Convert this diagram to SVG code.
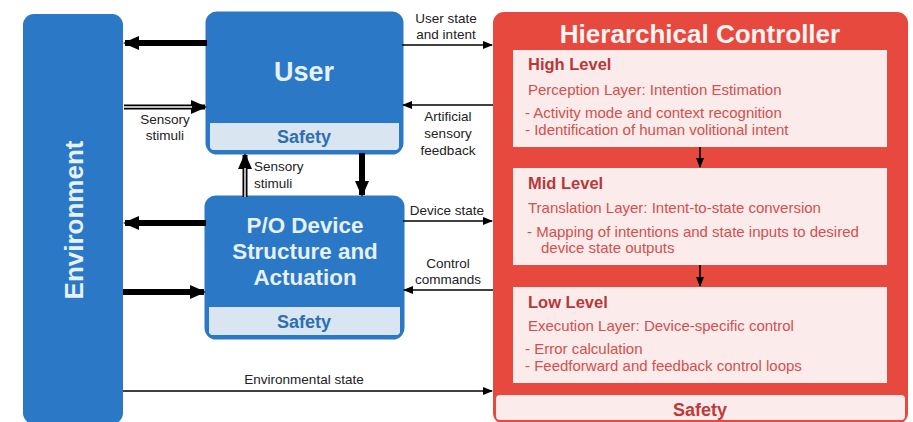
<svg xmlns="http://www.w3.org/2000/svg" width="913" height="422" viewBox="0 0 913 422">
<defs>
<style>
.lbl{font-family:"Liberation Sans",Arial,sans-serif;font-size:13.5px;fill:#222;text-anchor:middle}
.blueTitle{font-family:"Liberation Sans",Arial,sans-serif;font-weight:bold;fill:#e6f1fb;text-anchor:middle}
.safeB{font-family:"Liberation Sans",Arial,sans-serif;font-weight:bold;font-size:18px;fill:#2e6fb3;text-anchor:middle}
.head{font-family:"Liberation Sans",Arial,sans-serif;font-weight:bold;font-size:16.5px;fill:#b8383a}
.body{font-family:"Liberation Sans",Arial,sans-serif;font-size:15px;fill:#d2504e}
.thick{stroke:#000;stroke-width:6;fill:none}
.thin{stroke:#000;stroke-width:1.6;fill:none}
</style>
<marker id="big" markerUnits="userSpaceOnUse" markerWidth="16" markerHeight="14" refX="14" refY="7" orient="auto">
<path d="M0,0 L16,7 L0,14 z" fill="#000"/>
</marker>
<marker id="sm" markerUnits="userSpaceOnUse" markerWidth="10" markerHeight="8" refX="9" refY="4" orient="auto">
<path d="M0,0 L10,4 L0,8 z" fill="#000"/>
</marker>
</defs>
<rect width="913" height="422" fill="#fff"/>

<g id="environment">
<rect x="23" y="14" width="100" height="410" rx="11" fill="#2a78c6"/>
<text transform="translate(83,220) rotate(-90)" class="blueTitle" font-size="26">Environment</text>
</g>

<g id="user">
<rect x="207" y="13" width="195" height="140" rx="10" fill="#2a78c6"/>
<rect x="210" y="123" width="189" height="27" fill="#d9e6f2"/>
<rect x="207" y="13" width="195" height="140" rx="10" fill="none" stroke="#2a78c6" stroke-width="3"/>
<text x="304" y="81" class="blueTitle" font-size="27">User</text>
<text x="304" y="143" class="safeB">Safety</text>
</g>

<g id="device">
<rect x="206" y="197" width="197" height="141" rx="10" fill="#2a78c6"/>
<rect x="209" y="307" width="191" height="28" fill="#d9e6f2"/>
<rect x="206" y="197" width="197" height="141" rx="10" fill="none" stroke="#2a78c6" stroke-width="3"/>
<text class="blueTitle" font-size="22.4"><tspan x="305" y="233">P/O Device</tspan><tspan x="305" y="259">Structure and</tspan><tspan x="305" y="285">Actuation</tspan></text>
<text x="304" y="328" class="safeB">Safety</text>
</g>

<g id="controller">
<rect x="493" y="12" width="415" height="412" rx="11" fill="#e8493f"/>
<rect x="496" y="395" width="409" height="25" rx="4" fill="#fbebea"/>
<text x="700" y="43" font-family="'Liberation Sans',Arial,sans-serif" font-weight="bold" font-size="26" fill="#fff4f2" text-anchor="middle">Hierarchical Controller</text>
<text x="700" y="416" font-family="'Liberation Sans',Arial,sans-serif" font-weight="bold" font-size="18" fill="#c0393a" text-anchor="middle">Safety</text>
</g>

<g id="high-level">
<rect x="513" y="50" width="374" height="97" fill="#fbebea"/>
<text x="528" y="70" class="head">High Level</text>
<text x="528" y="95" class="body">Perception Layer: Intention Estimation</text>
<text x="525" y="118" class="body">- Activity mode and context recognition</text>
<text x="525" y="135" class="body">- Identification of human volitional intent</text>
</g>

<g id="mid-level">
<rect x="513" y="168" width="374" height="97" fill="#fbebea"/>
<text x="528" y="189" class="head">Mid Level</text>
<text x="528" y="213" class="body">Translation Layer: Intent-to-state conversion</text>
<text x="527" y="237" class="body">- Mapping of intentions and state inputs to desired</text>
<text x="541" y="253" class="body">device state outputs</text>
</g>

<g id="low-level">
<rect x="513" y="287" width="374" height="96" fill="#fbebea"/>
<text x="528" y="308" class="head">Low Level</text>
<text x="528" y="331" class="body">Execution Layer: Device-specific control</text>
<text x="525" y="354" class="body">- Error calculation</text>
<text x="525" y="371" class="body">- Feedforward and feedback control loops</text>
</g>

<g id="connectors">
<line x1="207" y1="43" x2="125" y2="43" class="thick" marker-end="url(#big)"/>
<line x1="124" y1="107" x2="205" y2="107" stroke="#000" stroke-width="5" marker-end="url(#big)"/>
<line x1="124" y1="107" x2="192" y2="107" stroke="#fff" stroke-width="1.4"/>
<text class="lbl"><tspan x="165" y="124">Sensory</tspan><tspan x="165" y="140">stimuli</tspan></text>
<line x1="245" y1="197" x2="245" y2="155" stroke="#000" stroke-width="5" marker-end="url(#big)"/>
<line x1="245" y1="197" x2="245" y2="168" stroke="#fff" stroke-width="1.4"/>
<text class="lbl" style="text-anchor:start"><tspan x="254" y="171">Sensory</tspan><tspan x="254" y="188">stimuli</tspan></text>
<line x1="362" y1="153" x2="362" y2="195" class="thick" marker-end="url(#big)"/>
<line x1="206" y1="223" x2="125" y2="223" class="thick" marker-end="url(#big)"/>
<line x1="123" y1="292" x2="204" y2="292" class="thick" marker-end="url(#big)"/>
<line x1="402" y1="45" x2="492" y2="45" class="thin" marker-end="url(#sm)"/>
<text class="lbl"><tspan x="446" y="23">User state</tspan><tspan x="446" y="39">and intent</tspan></text>
<line x1="493" y1="105" x2="403" y2="105" class="thin" marker-end="url(#sm)"/>
<text class="lbl"><tspan x="448" y="121">Artificial</tspan><tspan x="448" y="138">sensory</tspan><tspan x="448" y="155">feedback</tspan></text>
<line x1="403" y1="221" x2="492" y2="221" class="thin" marker-end="url(#sm)"/>
<text x="447" y="215" class="lbl">Device state</text>
<line x1="493" y1="290" x2="404" y2="290" class="thin" marker-end="url(#sm)"/>
<text class="lbl"><tspan x="448" y="268">Control</tspan><tspan x="448" y="284">commands</tspan></text>
<line x1="123" y1="391" x2="492" y2="391" class="thin" marker-end="url(#sm)"/>
<text x="304" y="384" class="lbl">Environmental state</text>
<line x1="700" y1="147" x2="700" y2="167" class="thin" marker-end="url(#sm)"/>
<line x1="700" y1="265" x2="700" y2="286" class="thin" marker-end="url(#sm)"/>
</g>
</svg>
